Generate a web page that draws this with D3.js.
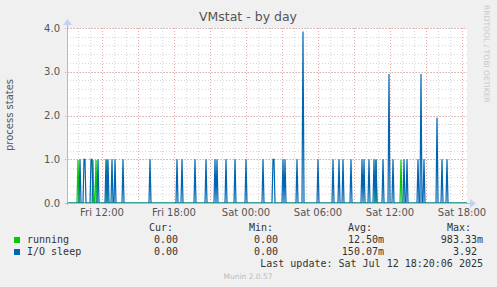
<!DOCTYPE html>
<html>
<head>
<meta charset="utf-8">
<script src="https://cdn.jsdelivr.net/npm/d3@7"></script>
<style>
  body { margin: 0; background: #f0f0f0; }
  svg { display: block; }
  text { font-family: "DejaVu Sans", sans-serif; }
  .mono { font-family: "DejaVu Sans Mono", monospace; font-size: 10px; fill: #333; }
</style>
</head>
<body>
<svg id="chart" width="497" height="287"></svg>
<script>
// spike samples (5 minute steps), everything else is 0
var runningTimes = ["07-11 10:00", "07-11 11:15", "07-11 11:30", "07-11 12:25", "07-12 10:50", "07-12 12:55"]
var runningValues = [0.98, 0.98, 0.98, 0.98, 0.98, 0.98]

var ioTimes = ["07-11 10:10", "07-11 10:30", "07-11 10:35", "07-11 11:05", "07-11 11:10", "07-11 11:40",
  "07-11 12:20", "07-11 12:30", "07-11 12:50", "07-11 13:05", "07-11 13:45", "07-11 16:00",
  "07-11 18:15", "07-11 18:40", "07-11 19:45", "07-11 20:40", "07-11 21:25", "07-11 21:35",
  "07-11 22:20", "07-11 23:05", "07-12 00:00", "07-12 01:25", "07-12 02:15", "07-12 02:20",
  "07-12 03:05", "07-12 03:15", "07-12 04:15", "07-12 04:45", "07-12 06:00", "07-12 07:15",
  "07-12 07:45", "07-12 08:05", "07-12 08:45", "07-12 09:40", "07-12 09:50", "07-12 10:15",
  "07-12 10:40", "07-12 10:50", "07-12 11:25", "07-12 11:55", "07-12 12:15", "07-12 13:10",
  "07-12 13:25", "07-12 14:20", "07-12 14:35", "07-12 14:50", "07-12 15:55", "07-12 16:20",
  "07-12 16:45"]
var ioValues = [1, 1, 1, 1, 1, 1,
  1, 1, 1, 1, 1, 1,
  1, 1, 1, 1, 1, 1,
  1, 1, 1, 1, 1, 1,
  1, 1, 1, 3.92, 1, 1,
  1, 1, 1, 1, 1, 1,
  1, 1, 1, 2.95, 1, 1,
  1, 1, 2.95, 1, 1.95, 1,
  1]

var yTicks = [0, 1, 2, 3, 4]
var legendNames = ["running", "I/O sleep"]
var legendColors = ["#00cc00", "#0066b3"]
var curVals = ["0.00", "0.00"]
var minVals = ["0.00", "0.00"]
var avgVals = ["12.50m", "150.07m"]
var maxVals = ["983.33m", "3.92"]

var parse = d3.timeParse("%Y-%m-%d %H:%M")
var start = parse("2025-07-11 09:05")
var end = parse("2025-07-12 18:25")

function buildSeries(times, values) {
  var lookup = {}
  times.forEach(function (t, i) { lookup[+parse("2025-" + t)] = values[i] })
  return d3.timeMinute.every(5).range(start, d3.timeMinute.offset(end, 1)).map(function (d) {
    return { t: d, v: lookup[+d] || 0 }
  })
}

var runningData = buildSeries(runningTimes, runningValues)
var ioData = buildSeries(ioTimes, ioValues)

var svg = d3.select("#chart")
var plotL = 67, plotR = 467, plotT = 28, plotB = 203

var x = d3.scaleTime().domain([start, end]).range([plotL, plotR])
var y = d3.scaleLinear().domain([0, 4]).range([plotB, plotT])

svg.append("rect").attr("x", plotL).attr("y", plotT).attr("width", plotR - plotL).attr("height", plotB - plotT).attr("fill", "#fff")

// minor grid
var g = svg.append("g").attr("shape-rendering", "crispEdges")
g.selectAll(".vmin").data(d3.timeHour.every(1).range(start, end))
  .enter().append("line")
  .attr("x1", function (d) { return Math.round(x(d)) + 0.5 }).attr("x2", function (d) { return Math.round(x(d)) + 0.5 })
  .attr("y1", plotT).attr("y2", plotB)
  .attr("stroke", "#d6d6d6").attr("stroke-dasharray", "1,2")
g.selectAll(".hmin").data(d3.range(0.2, 4.01, 0.2))
  .enter().append("line")
  .attr("x1", plotL).attr("x2", plotR)
  .attr("y1", function (d) { return Math.round(y(d)) + 0.5 }).attr("y2", function (d) { return Math.round(y(d)) + 0.5 })
  .attr("stroke", "#d6d6d6").attr("stroke-dasharray", "1,2")
// major grid
g.selectAll(".vmaj").data(d3.timeHour.every(3).range(start, end))
  .enter().append("line")
  .attr("x1", function (d) { return Math.round(x(d)) + 0.5 }).attr("x2", function (d) { return Math.round(x(d)) + 0.5 })
  .attr("y1", plotT).attr("y2", plotB + 2)
  .attr("stroke", "#e8a8a8").attr("stroke-dasharray", "1,2")
g.selectAll(".hmaj").data(yTicks.slice(1))
  .enter().append("line")
  .attr("x1", plotL - 2).attr("x2", plotR)
  .attr("y1", function (d) { return Math.round(y(d)) + 0.5 }).attr("y2", function (d) { return Math.round(y(d)) + 0.5 })
  .attr("stroke", "#e8a8a8").attr("stroke-dasharray", "1,2")

// series
var line = d3.line().x(function (d) { return x(d.t) }).y(function (d) { return y(d.v) })
svg.append("path").datum(runningData).attr("d", line).attr("fill", "none").attr("stroke", legendColors[0]).attr("stroke-width", 1.2)
svg.append("path").datum(ioData).attr("d", line).attr("fill", "none").attr("stroke", legendColors[1]).attr("stroke-width", 1.2)

// axes
var axisColor = "#a9b6e6"
svg.append("line").attr("x1", plotL - 2).attr("x2", plotR + 4).attr("y1", plotB + 0.5).attr("y2", plotB + 0.5).attr("stroke", axisColor)
svg.append("line").attr("x1", plotL + 0.5).attr("x2", plotL + 0.5).attr("y1", plotT - 4).attr("y2", plotB + 2).attr("stroke", axisColor)
svg.append("path").attr("d", "M" + (plotR + 3) + "," + (plotB - 4) + "L" + (plotR + 9) + "," + (plotB + 0.5) + "L" + (plotR + 3) + "," + (plotB + 5) + "Z").attr("fill", "#c6d0f4")
svg.append("path").attr("d", "M" + (plotL - 4) + "," + (plotT - 3) + "L" + (plotL + 0.5) + "," + (plotT - 9) + "L" + (plotL + 5) + "," + (plotT - 3) + "Z").attr("fill", "#c6d0f4")

// tick labels
svg.selectAll(".ylab").data(yTicks).enter().append("text")
  .attr("x", 60).attr("y", function (d) { return y(d) + 3.5 })
  .attr("text-anchor", "end").attr("font-size", 10).attr("fill", "#555")
  .text(function (d) { return d.toFixed(1) })

var fmt = d3.timeFormat("%a %H:%M")
svg.selectAll(".xlab").data(d3.timeHour.every(6).range(start, end)).enter().append("text")
  .attr("x", function (d) { return x(d) }).attr("y", 216)
  .attr("text-anchor", "middle").attr("font-size", 10).attr("fill", "#555")
  .text(fmt)

// titles
svg.append("text").attr("x", 248).attr("y", 21).attr("text-anchor", "middle").attr("font-size", 12.5).attr("fill", "#555").text("VMstat - by day")
svg.append("text").attr("transform", "translate(13,115) rotate(-90)").attr("text-anchor", "middle").attr("font-size", 10).attr("fill", "#555").text("process states")
svg.append("text").attr("transform", "translate(484,5) rotate(90)").attr("font-size", 7.6).attr("fill", "#c8c8c8").text("RRDTOOL / TOBI OETIKER")

// legend
svg.append("text").attr("class", "mono").attr("x", 149).attr("y", 231).text("Cur:")
svg.append("text").attr("class", "mono").attr("x", 249).attr("y", 231).text("Min:")
svg.append("text").attr("class", "mono").attr("x", 348).attr("y", 231).text("Avg:")
svg.append("text").attr("class", "mono").attr("x", 447).attr("y", 231).text("Max:")

legendNames.forEach(function (name, i) {
  var yy = 243 + i * 12
  svg.append("rect").attr("x", 14).attr("y", yy - 6).attr("width", 6).attr("height", 6).attr("fill", legendColors[i])
  svg.append("text").attr("class", "mono").attr("x", 27).attr("y", yy).text(name)
  svg.append("text").attr("class", "mono").attr("x", 178).attr("y", yy).attr("text-anchor", "end").text(curVals[i])
  svg.append("text").attr("class", "mono").attr("x", 278).attr("y", yy).attr("text-anchor", "end").text(minVals[i])
  svg.append("text").attr("class", "mono").attr("x", 384).attr("y", yy).attr("text-anchor", "end").text(avgVals[i])
  var mx = maxVals[i]
  svg.append("text").attr("class", "mono").attr("x", /m$/.test(mx) ? 483 : 477).attr("y", yy).attr("text-anchor", "end").text(mx)
})
svg.append("text").attr("class", "mono").attr("x", 483).attr("y", 267).attr("text-anchor", "end").text("Last update: Sat Jul 12 18:20:06 2025")
svg.append("text").attr("x", 248).attr("y", 279).attr("text-anchor", "middle").attr("font-size", 7.5).attr("fill", "#bbb").text("Munin 2.0.57")
</script>
</body>
</html>
